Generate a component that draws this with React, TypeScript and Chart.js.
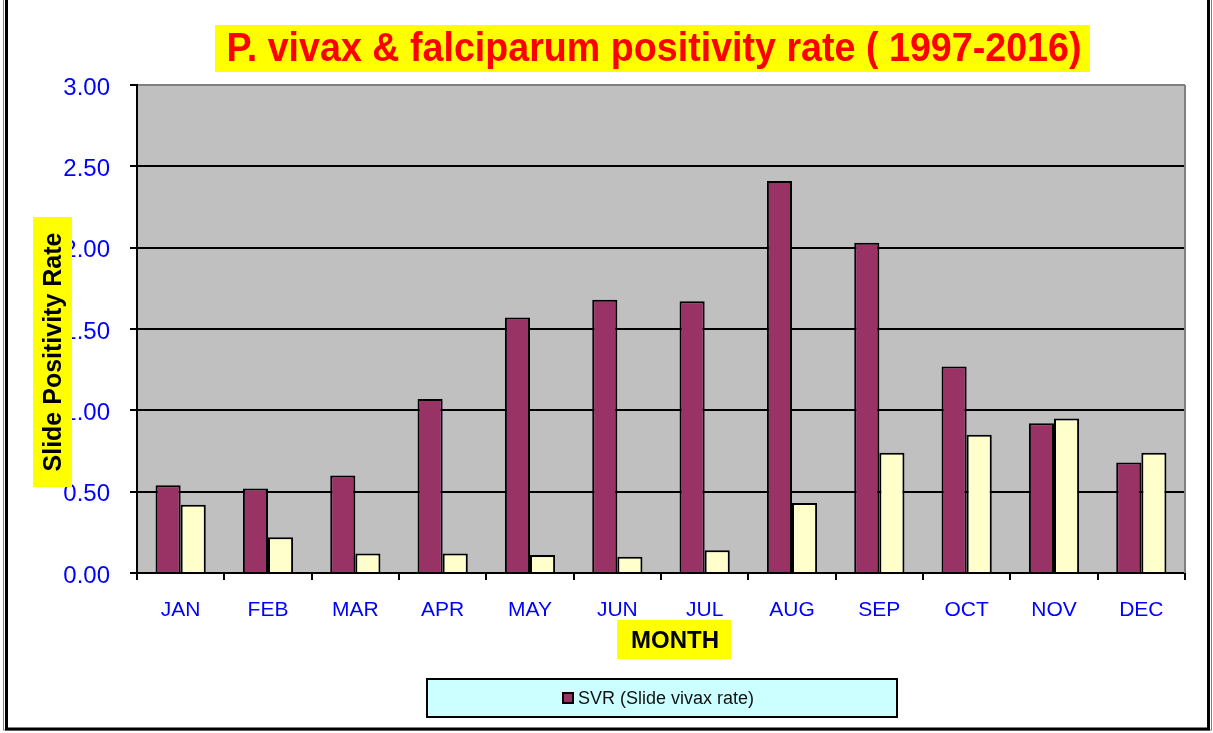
import React, { useEffect, useRef } from "react";
import { Chart, registerables } from "chart.js";

Chart.register(...registerables);

const months = ["JAN", "FEB", "MAR", "APR", "MAY", "JUN", "JUL", "AUG", "SEP", "OCT", "NOV", "DEC"];
const svr = [0.54, 0.52, 0.6, 1.07, 1.57, 1.68, 1.67, 2.41, 2.03, 1.27, 0.92, 0.68];
const sfr = [0.42, 0.22, 0.12, 0.12, 0.11, 0.1, 0.14, 0.43, 0.74, 0.85, 0.95, 0.74];
const yTicks = [0, 0.5, 1, 1.5, 2, 2.5, 3];

const titleText = "P. vivax & falciparum positivity rate ( 1997-2016)";
const yTitle = "Slide Positivity Rate";
const xTitle = "MONTH";
const legendText = "SVR (Slide vivax rate)";

const FONT = "'Liberation Sans', Arial, sans-serif";

const decor = {
  id: "decor",
  beforeDraw(chart: any) {
    const { ctx, chartArea: a } = chart;
    ctx.save();
    ctx.fillStyle = "#fff";
    ctx.fillRect(0, 0, chart.width, chart.height);
    ctx.fillStyle = "#C0C0C0";
    ctx.fillRect(a.left, a.top, a.right - a.left, a.bottom - a.top);
    ctx.restore();
  },
  afterDraw(chart: any) {
    const { ctx, chartArea: a } = chart;
    ctx.save();
    // plot right border (gray)
    ctx.strokeStyle = "#808080";
    ctx.lineWidth = 2;
    ctx.beginPath();
    ctx.moveTo(a.right, a.top);
    ctx.lineTo(a.right, a.bottom);
    ctx.stroke();

    // title
    ctx.fillStyle = "#FFFF00";
    ctx.fillRect(215, 25, 875, 47);
    ctx.font = `bold 41px ${FONT}`;
    ctx.fillStyle = "#FF0000";
    ctx.textAlign = "center";
    ctx.textBaseline = "middle";
    let w = ctx.measureText(titleText).width;
    let sx = Math.min(1, 855 / w);
    ctx.save();
    ctx.translate(654, 50);
    ctx.scale(sx, 1);
    ctx.fillText(titleText, 0, 0);
    ctx.restore();

    // y title
    ctx.fillStyle = "#FFFF00";
    ctx.fillRect(33, 217, 39, 270);
    ctx.font = `bold 25px ${FONT}`;
    ctx.fillStyle = "#000";
    w = ctx.measureText(yTitle).width;
    sx = Math.min(1, 250 / w);
    ctx.save();
    ctx.translate(54, 352);
    ctx.rotate(-Math.PI / 2);
    ctx.scale(sx, 1);
    ctx.fillText(yTitle, 0, 0);
    ctx.restore();

    // x title
    ctx.fillStyle = "#FFFF00";
    ctx.fillRect(617, 620, 114, 39);
    ctx.font = `bold 24px ${FONT}`;
    ctx.fillStyle = "#000";
    ctx.fillText(xTitle, 675, 641);

    // legend
    ctx.fillStyle = "#CCFFFF";
    ctx.fillRect(427, 679, 470, 38);
    ctx.strokeStyle = "#000";
    ctx.lineWidth = 2;
    ctx.strokeRect(427, 679, 470, 38);
    ctx.fillStyle = "#993366";
    ctx.fillRect(563, 693, 10, 10);
    ctx.strokeRect(563, 693, 10, 10);
    ctx.font = `18px ${FONT}`;
    ctx.fillStyle = "#111";
    ctx.textAlign = "left";
    ctx.fillText(legendText, 578, 699);

    // outer frame
    ctx.strokeStyle = "#808080";
    ctx.lineWidth = 1;
    ctx.strokeRect(3.5, -5, 1208, 735);
    ctx.strokeStyle = "#000";
    ctx.lineWidth = 3;
    ctx.strokeRect(6.5, -5, 1202, 734);
    ctx.restore();
  },
};

export default function App() {
  const ref = useRef<HTMLCanvasElement>(null);
  useEffect(() => {
    const chart = new Chart(ref.current!, {
      type: "bar",
      data: {
        labels: months,
        datasets: [
          {
            label: "SVR (Slide vivax rate)",
            data: svr,
            backgroundColor: "#993366",
            borderColor: "#000",
            borderWidth: 2,
            barPercentage: 1,
            categoryPercentage: 0.575,
          },
          {
            label: "SFR (Slide falciparum rate)",
            data: sfr,
            backgroundColor: "#FFFFCC",
            borderColor: "#000",
            borderWidth: 2,
            barPercentage: 1,
            categoryPercentage: 0.575,
          },
        ],
      },
      options: {
        responsive: false,
        animation: false,
        devicePixelRatio: 1,
        layout: { padding: { top: 85, right: 28, left: 0, bottom: 0 } },
        plugins: { legend: { display: false }, title: { display: false }, tooltip: { enabled: false } },
        scales: {
          x: {
            grid: {
              display: true,
              drawOnChartArea: false,
              drawTicks: true,
              tickLength: 7,
              color: "#000",
              lineWidth: 2,
              offset: true,
            },
            border: { display: true, color: "#000", width: 2 },
            ticks: {
              color: "#0000FF",
              font: { family: FONT, size: 21 },
              padding: 18,
              maxRotation: 0,
              autoSkip: false,
            },
            afterFit: (s: any) => {
              s.height = 160;
            },
          },
          y: {
            min: 0,
            max: 3,
            afterBuildTicks: (s: any) => {
              s.ticks = yTicks.map((v) => ({ value: v }));
            },
            ticks: {
              callback: (v: any) => Number(v).toFixed(2),
              color: "#0000FF",
              font: { family: FONT, size: 24 },
              padding: 20,
              labelOffset: 3,
            },
            grid: {
              color: (c: any) => (c.tick && c.tick.value === 3 ? "#808080" : "#000"),
              tickColor: "#000",
              lineWidth: 2,
              tickLength: 7,
            },
            border: { display: true, color: "#000", width: 2 },
            afterFit: (s: any) => {
              s.width = 137;
            },
          },
        },
      },
      plugins: [decor],
    });
    return () => chart.destroy();
  }, []);
  return (
    <div style={{ position: "absolute", left: 0, top: 0, width: 1213, height: 733 }}>
      <canvas ref={ref} width={1213} height={733} style={{ display: "block" }} />
    </div>
  );
}
